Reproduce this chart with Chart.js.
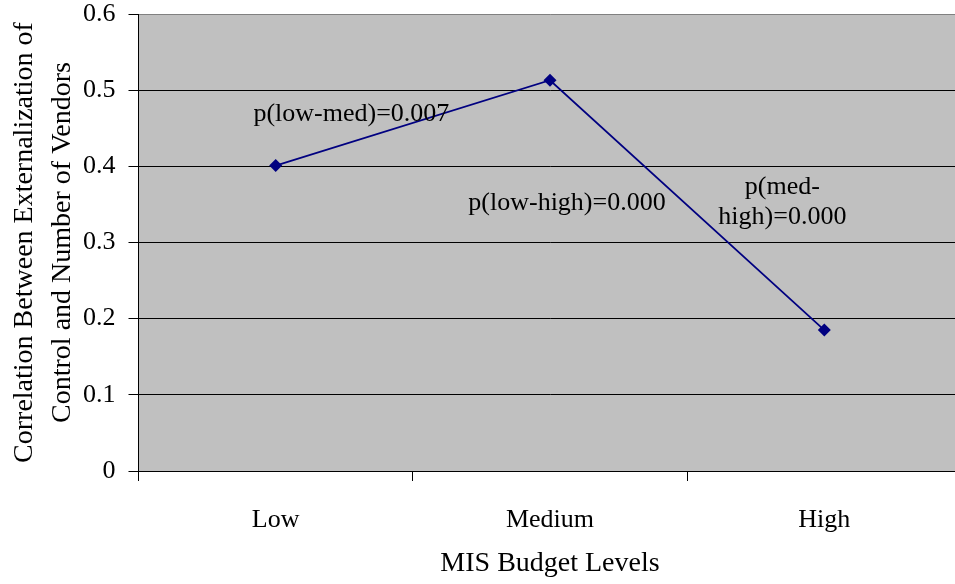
<!DOCTYPE html>
<html>
<head>
<meta charset="utf-8">
<script src="https://cdn.jsdelivr.net/npm/chart.js@4/dist/chart.umd.min.js"></script>
<style>
  html, body { margin: 0; padding: 0; overflow: hidden; background: #fff; }
  #wrap { width: 968px; height: 584px; }
  canvas { display: block; }
</style>
</head>
<body>
<div id="wrap"><canvas id="chart" width="968" height="584"></canvas></div>
<script>
// Data
const categories = ["Low", "Medium", "High"];
const correlations = [0.401, 0.513, 0.185];
const yTickLabels = ["0", "0.1", "0.2", "0.3", "0.4", "0.5", "0.6"];

// p-value notes (placed in data units: category index, correlation value)
const noteLines = [["p(low-med)=0.007"], ["p(low-high)=0.000"], ["p(med-", "high)=0.000"]];
const noteX = [0.276, 1.062, 1.847];
const noteY = [0.468, 0.352, 0.372];

const serif = "'Liberation Serif', 'DejaVu Serif', serif";

// gray plot background
const plotBackground = {
    id: "plotBackground",
    beforeDraw(chart) {
        const a = chart.chartArea;
        const ctx = chart.ctx;
        ctx.save();
        ctx.fillStyle = "#C0C0C0";
        ctx.fillRect(a.left, a.top, a.right - a.left, a.bottom - a.top);
        ctx.restore();
    }
};

// text notes on the plot
const notes = {
    id: "notes",
    afterDatasetsDraw(chart) {
        const ctx = chart.ctx;
        const xs = chart.scales.x;
        const ys = chart.scales.y;
        ctx.save();
        ctx.font = "26px " + serif;
        ctx.fillStyle = "#000";
        ctx.textAlign = "center";
        ctx.textBaseline = "middle";
        noteLines.forEach((lines, i) => {
            const px = xs.getPixelForValue(noteX[i]);
            let py = ys.getPixelForValue(noteY[i]);
            lines.forEach(line => {
                ctx.fillText(line, px, py);
                py += 30;
            });
        });
        ctx.restore();
    }
};

new Chart(document.getElementById("chart").getContext("2d"), {
    type: "line",
    data: {
        labels: categories,
        datasets: [{
            data: correlations,
            borderColor: "#000080",
            backgroundColor: "#000080",
            borderWidth: 1.75,
            pointStyle: "rectRot",
            pointRadius: 6.5,
            pointBorderWidth: 0,
            fill: false,
            tension: 0
        }]
    },
    options: {
        responsive: false,
        maintainAspectRatio: false,
        animation: false,
        devicePixelRatio: 1,
        layout: { padding: { top: 14, right: 0, left: 0, bottom: 0 } },
        plugins: {
            legend: { display: false },
            tooltip: { enabled: false }
        },
        scales: {
            x: {
                offset: true,
                grid: {
                    offset: true,
                    drawOnChartArea: false,
                    drawTicks: true,
                    tickLength: 10,
                    tickColor: "#000"
                },
                border: { color: "#000", width: 1 },
                ticks: {
                    color: "#000",
                    padding: 24,
                    font: { family: serif, size: 26 }
                },
                title: {
                    display: true,
                    text: "MIS Budget Levels",
                    color: "#000",
                    font: { family: serif, size: 28, lineHeight: 1.2 },
                    padding: { top: 0, bottom: 4 }
                },
                afterFit(scale) {
                    scale.height = 113;
                    scale.paddingLeft = 0;
                    scale.paddingRight = 0;
                }
            },
            y: {
                min: 0,
                max: 0.6,
                ticks: {
                    stepSize: 0.1,
                    color: "#000",
                    padding: 13,
                    font: { family: serif, size: 26 },
                    callback: (v, i) => yTickLabels[i]
                },
                grid: {
                    color: c => (c.tick && c.tick.value >= 0.6 ? "#808080" : "#000"),
                    tickColor: "#000",
                    tickLength: 10,
                    lineWidth: 1
                },
                border: { color: "#000", width: 1 },
                title: {
                    display: true,
                    text: ["Correlation Between Externalization of", "Control and Number of Vendors"],
                    color: "#000",
                    font: { family: serif, size: 28, lineHeight: 1.35 },
                    padding: { top: 6, bottom: 0 }
                },
                afterFit(scale) {
                    scale.width = 138.5;
                    scale.paddingTop = 0;
                    scale.paddingBottom = 0;
                }
            }
        }
    },
    plugins: [plotBackground, notes]
});
</script>
</body>
</html>
